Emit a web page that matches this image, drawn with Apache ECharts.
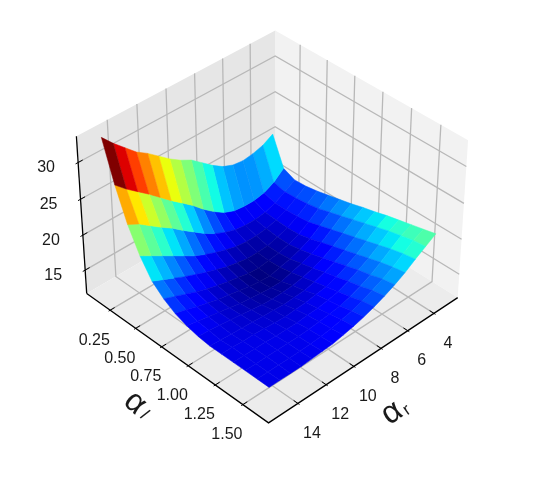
<!DOCTYPE html>
<html><head><meta charset="utf-8">
<style>html,body{margin:0;padding:0;background:#fff}#c{width:540px;height:486px}</style>
<script src="https://cdn.jsdelivr.net/npm/echarts@6/dist/echarts.min.js"></script></head>
<body><div id="c"></div>
<script>
// Surface samples: alpha_r is listed from the left tip towards the back
const alphaR=[15,14.25,13.5,12.75,12,11.25,10.5,9.75,9,8.25,7.5,6.75,6,5.25,4.5,3.75,3];
const alphaL=[0.1,0.207,0.314,0.421,0.529,0.636,0.743,0.85,0.957,1.064,1.171,1.279,1.386,1.493,1.6];
const z0=[33,31.4,30,28.6,27.6,26.4,25.2,24.2,23.4,22.2,21,20,19.4,19.2,19.4,19.8,20.6];
const z1=[27.6,26.2,25,23.8,22.5,21.2,20,18.8,17.4,16.2,15.2,14.6,14.4,14.4,14.7,15.4,16.6];
const z2=[23.2,22.4,21.3,20.2,19.2,18,16.9,15.8,14.9,14.2,13.7,13.5,13.5,13.7,14.2,15,15.9];
const z3=[19.9,19,18.1,17.2,16.3,15.4,14.7,14.1,13.6,13.2,13,13,13.2,13.6,14.2,15.1,16];
const z4=[17.4,16.7,16,15.3,14.7,14.1,13.6,13.1,12.8,12.5,12.5,12.6,13,13.5,14.3,15.3,16.3];
const z5=[16,15.4,14.8,14.2,13.7,13.3,12.9,12.6,12.3,12.2,12.4,12.6,13,13.6,14.5,15.6,16.7];
const z6=[15,14.6,14.1,13.7,13.3,13,12.7,12.4,12.2,12.1,12.5,12.8,13.3,14,15,16.1,17.1];
const z7=[14.4,14.1,13.8,13.5,13.2,12.9,12.7,12.5,12.4,12.4,12.8,13.2,13.7,14.5,15.5,16.6,17.5];
const z8=[14,13.9,13.7,13.5,13.3,13.1,12.9,12.8,12.8,12.9,13.2,13.6,14.2,15,16,17.1,18];
const z9=[13.8,13.7,13.6,13.5,13.4,13.3,13.2,13.1,13.2,13.3,13.6,14.1,14.7,15.5,16.5,17.6,18.4];
const z10=[13.8,13.8,13.7,13.7,13.6,13.5,13.4,13.5,13.6,13.8,14,14.5,15.2,16,17,18.1,18.9];
const z11=[13.8,13.8,13.8,13.8,13.7,13.7,13.7,13.8,13.9,14.1,14.4,15,15.7,16.5,17.5,18.6,19.3];
const z12=[13.8,13.8,13.8,13.8,13.8,13.8,13.9,14,14.2,14.4,14.8,15.4,16.1,17,18,19,19.7];
const z13=[13.8,13.8,13.8,13.8,13.8,13.9,14,14.2,14.5,14.8,15.3,15.9,16.6,17.4,18.4,19.4,20.1];
const z14=[13.8,13.8,13.8,13.8,13.9,14,14.1,14.4,14.7,15.1,15.6,16.2,16.9,17.7,18.7,19.6,20.5];
const zRows=[z0,z1,z2,z3,z4,z5,z6,z7,z8,z9,z10,z11,z12,z13,z14];
const ticksR=[4,6,8,10,12,14];
const ticksL=[0.25,0.5,0.75,1,1.25,1.5];
const ticksZ=[15,20,25,30];
const limR=[2.15,16.04], limL=[0.015,1.728], limZ=[11.6,33.5];

// Camera
const el=38*Math.PI/180, az=46*Math.PI/180, D=8.4, S=269.5, CX=272, CY=219, H=0.74;
const e=[Math.cos(el)*Math.cos(az),Math.cos(el)*Math.sin(az),Math.sin(el)];
const r=[-Math.sin(az),Math.cos(az),0];
const u=[-Math.sin(el)*Math.cos(az),-Math.sin(el)*Math.sin(az),Math.cos(el)];
function norm(x,y,z){return [(x-limR[0])/(limR[1]-limR[0])-.5,(y-limL[0])/(limL[1]-limL[0])-.5,((z-limZ[0])/(limZ[1]-limZ[0])-.5)*H];}
const dot=(a,b)=>a[0]*b[0]+a[1]*b[1]+a[2]*b[2];
function proj(x,y,z){const p=norm(x,y,z),k=1/(1-dot(p,e)/D);return [CX+S*k*dot(p,r),CY-S*k*dot(p,u)];}
function depth(x,y,z){return dot(norm(x,y,z),e);}

function jet(t){t=Math.max(0,Math.min(1,t));
  const f=(pts)=>{for(let i=1;i<pts.length;i++){if(t<=pts[i][0]){const a=pts[i-1],b=pts[i];return a[1]+(b[1]-a[1])*(t-a[0])/(b[0]-a[0]);}}return pts[pts.length-1][1];};
  const R=f([[0,0],[.35,0],[.66,1],[.89,1],[1,.5]]),G=f([[0,0],[.125,0],[.375,1],[.64,1],[.91,0],[1,0]]),B=f([[0,.5],[.11,1],[.34,1],[.65,0],[1,0]]);
  return 'rgb('+Math.round(R*255)+','+Math.round(G*255)+','+Math.round(B*255)+')';}

// Surface cells
const cells=[];let mn=1e9,mx=-1e9;
for(let j=0;j<alphaL.length-1;j++)for(let i=0;i<alphaR.length-1;i++){
  const c=[[i,j],[i+1,j],[i+1,j+1],[i,j+1]].map(q=>[alphaR[q[0]],alphaL[q[1]],zRows[q[1]][q[0]]]);
  const avg=c.reduce((s,q)=>s+q[2],0)/4;mn=Math.min(mn,avg);mx=Math.max(mx,avg);
  const d=c.reduce((s,q)=>s+depth(q[0],q[1],q[2]),0)/4;
  cells.push({c,avg,d});
}
cells.sort((a,b)=>a.d-b.d);
const surfData=cells.map(o=>[].concat(...o.c).concat(o.avg));

// Box elements
const [x0,x1]=limR,[y0,y1]=limL,[zb,zt]=limZ;
const panes=[
 {col:'#f2f2f2',p:[[x0,y0,zb],[x0,y1,zb],[x0,y1,zt],[x0,y0,zt]]},
 {col:'#e6e6e6',p:[[x0,y0,zb],[x1,y0,zb],[x1,y0,zt],[x0,y0,zt]]},
 {col:'#ececec',p:[[x0,y0,zb],[x1,y0,zb],[x1,y1,zb],[x0,y1,zb]]}];
const lines=[];
const GRID='#b8b8b8';
ticksR.forEach(t=>lines.push({col:GRID,w:1.3,p:[[t,y1,zb],[t,y0,zb],[t,y0,zt]]}));
ticksL.forEach(t=>lines.push({col:GRID,w:1.3,p:[[x1,t,zb],[x0,t,zb],[x0,t,zt]]}));
ticksZ.forEach(t=>lines.push({col:GRID,w:1.3,p:[[x1,y0,t],[x0,y0,t],[x0,y1,t]]}));
const BK='#000';
lines.push({col:BK,w:1.3,p:[[x1,y0,zb],[x1,y1,zb],[x0,y1,zb]]});
lines.push({col:BK,w:1.3,p:[[x1,y0,zb],[x1,y0,zt]]});
const dx=(x1-x0),dy=(y1-y0);
ticksR.forEach(t=>lines.push({col:BK,w:1,p:[[t,y1+.008*dy,zb],[t,y1-.022*dy,zb]]}));
ticksL.forEach(t=>lines.push({col:BK,w:1,p:[[x1+.008*dx,t,zb],[x1-.022*dx,t,zb]]}));
ticksZ.forEach(t=>lines.push({col:BK,w:1,p:[[x1+.012*dx,y0,t],[x1-.022*dx,y0,t]]}));

// Text
const TF='"Liberation Sans",Arial,sans-serif';
const texts=[];
ticksR.forEach(t=>texts.push({s:String(t),a:[t,y1,zb],o:[14,30],fs:16}));
ticksL.forEach(t=>texts.push({s:t.toFixed(2),a:[x1,t,zb],o:[-16,30],fs:16}));
ticksZ.forEach(t=>texts.push({s:String(t),a:[x1,y0,t],o:[-32,5],fs:16}));
texts.push({s:'α',fixed:[135,403],fs:32,rot:-0.72});
texts.push({s:'l',fixed:[144,415],fs:17,rot:-0.72,it:true});
texts.push({s:'α',fixed:[392,413],fs:32,rot:0.6});
texts.push({s:'r',fixed:[407,410],fs:17,rot:0.6});

const chart=echarts.init(document.getElementById('c'),null,{renderer:'canvas'});
const base={type:'custom',coordinateSystem:'cartesian2d',clip:false,silent:true,animation:false};
chart.setOption({
 animation:false,
 grid:{left:0,top:0,width:540,height:486,show:false},
 xAxis:{type:'value',min:0,max:540,show:false},
 yAxis:{type:'value',min:0,max:486,inverse:true,show:false},
 series:[
  Object.assign({},base,{data:panes.map((p,i)=>[i]),renderItem:(pr,api)=>{
    const o=panes[pr.dataIndex];
    return {type:'polygon',shape:{points:o.p.map(q=>api.coord(proj(...q)))},style:{fill:o.col}};}}),
  Object.assign({},base,{data:lines.map((p,i)=>[i]),renderItem:(pr,api)=>{
    const o=lines[pr.dataIndex];
    return {type:'polyline',shape:{points:o.p.map(q=>api.coord(proj(...q)))},style:{stroke:o.col,lineWidth:o.w,fill:'none'}};}}),
  Object.assign({},base,{data:surfData,renderItem:(pr,api)=>{
    const pts=[];for(let k=0;k<4;k++)pts.push(api.coord(proj(api.value(k*3),api.value(k*3+1),api.value(k*3+2))));
    const col=jet((api.value(12)-mn)/(mx-mn));
    return {type:'polygon',shape:{points:pts},style:{fill:col,stroke:col,lineWidth:0.5}};}}),
  Object.assign({},base,{data:texts.map((p,i)=>[i]),renderItem:(pr,api)=>{
    const o=texts[pr.dataIndex];
    let q;
    if(o.fixed){q=api.coord(o.fixed);}else{const b=api.coord(proj(...o.a));q=[b[0]+o.o[0],b[1]+o.o[1]];}
    return {type:'text',x:q[0],y:q[1],rotation:o.rot||0,style:{text:o.s,x:0,y:0,fill:'#1a1a1a',font:(o.it?'italic ':'')+o.fs+'px '+TF,align:'center',verticalAlign:'middle'}};}})
 ]
});
</script></body></html>
